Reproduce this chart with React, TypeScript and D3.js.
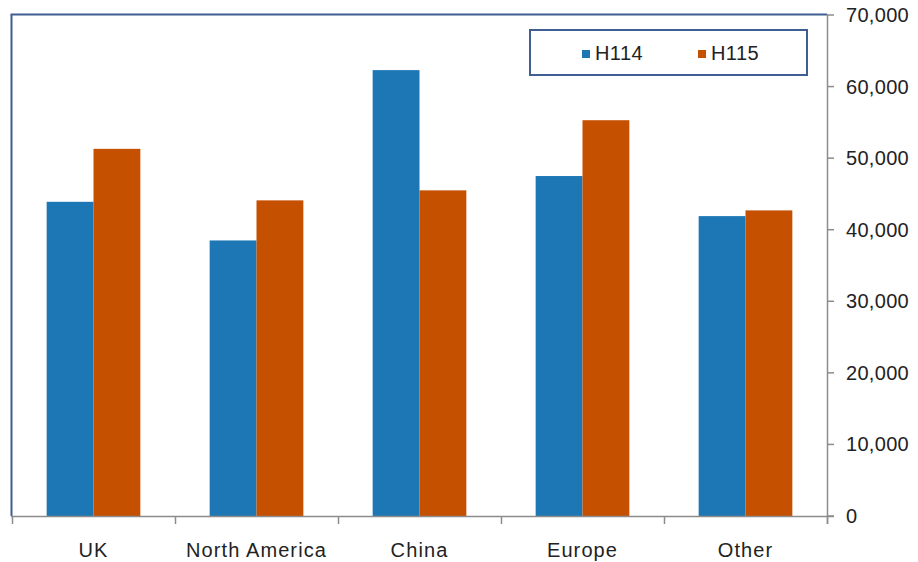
import React from "react";
import * as d3 from "d3";

const categories = ["UK", "North America", "China", "Europe", "Other"];
const seriesNames = ["H114", "H115"];
const h114 = [43900, 38500, 62300, 47500, 41900];
const h115 = [51300, 44100, 45500, 55300, 42700];
const yTicks = [0, 10000, 20000, 30000, 40000, 50000, 60000, 70000];
const colors = ["#1c77b4", "#c55000"];

const W = 918;
const H = 562;
const left = 12;
const right = 827;
const top = 15;
const bottom = 516;

export default function App() {
  const x = d3.scaleBand<string>().domain(categories).range([left, right]).paddingInner(0).paddingOuter(0);
  const inner = d3.scaleBand<string>().domain(seriesNames).range([0, x.bandwidth()]).paddingInner(0).paddingOuter(0.74);
  const y = d3.scaleLinear().domain([0, 70000]).range([bottom, top]);
  const fmt = d3.format(",");
  const series = [h114, h115];
  const font = "'Liberation Sans', Arial, sans-serif";

  return (
    <svg width={W} height={H} style={{ position: "absolute", left: 0, top: 0, display: "block" }}>
      <rect x={0} y={0} width={W} height={H} fill="#fff" />
      {/* plot area frame */}
      <line x1={left - 0.5} y1={top} x2={left - 0.5} y2={bottom} stroke="#3f5f94" strokeWidth={2} />
      <line x1={left - 1.5} y1={top - 0.5} x2={right} y2={top - 0.5} stroke="#3f5f94" strokeWidth={2} />
      {/* bars */}
      {categories.map((c, i) =>
        series.map((s, j) => (
          <rect
            key={c + j}
            x={(x(c) as number) + (inner(seriesNames[j]) as number)}
            y={y(s[i])}
            width={inner.bandwidth()}
            height={bottom - y(s[i])}
            fill={colors[j]}
          />
        ))
      )}
      {/* right value axis */}
      <line x1={right + 0.5} y1={top - 1} x2={right + 0.5} y2={bottom + 8} stroke="#8c8c8c" strokeWidth={1.5} />
      {yTicks.map((t) => (
        <g key={t}>
          <line x1={right} y1={y(t)} x2={right + 7} y2={y(t)} stroke="#8c8c8c" strokeWidth={1.5} />
          <text x={846} y={y(t) + 7} fontFamily={font} fontSize={20} letterSpacing={0.3} fill="#222">
            {fmt(t)}
          </text>
        </g>
      ))}
      {/* bottom category axis */}
      <line x1={left - 1} y1={bottom + 0.5} x2={right + 7} y2={bottom + 0.5} stroke="#8c8c8c" strokeWidth={1.5} />
      {d3.range(categories.length + 1).map((k) => {
        const px = k < categories.length ? (x(categories[k]) as number) : right;
        return <line key={k} x1={px + 0.5} y1={bottom} x2={px + 0.5} y2={bottom + 8} stroke="#8c8c8c" strokeWidth={1.5} />;
      })}
      {categories.map((c) => (
        <text
          key={c}
          x={(x(c) as number) + x.bandwidth() / 2}
          y={557}
          textAnchor="middle"
          fontFamily={font}
          fontSize={20}
          letterSpacing={1.1}
          fill="#222"
        >
          {c}
        </text>
      ))}
      {/* legend */}
      <rect x={530} y={30} width={277} height={45} fill="#fff" stroke="#3f5f94" strokeWidth={2} />
      {seriesNames.map((n, j) => (
        <g key={n} transform={`translate(${582 + j * 116},0)`}>
          <rect x={0} y={50} width={8} height={8} fill={colors[j]} />
          <text x={13} y={60} fontFamily={font} fontSize={20} letterSpacing={0.4} fill="#222">
            {n}
          </text>
        </g>
      ))}
    </svg>
  );
}
